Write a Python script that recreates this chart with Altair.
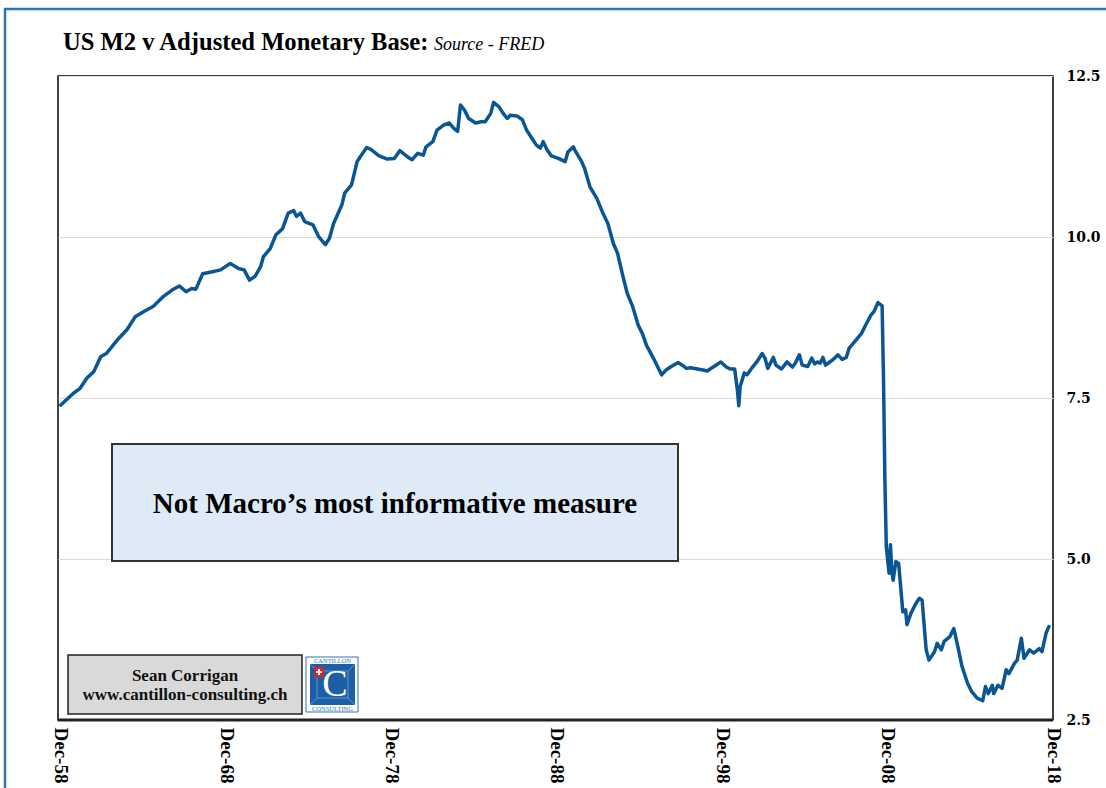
import altair as alt
import pandas as pd

# ---- data (ratio M2 / adjusted monetary base) ----
dates = [
    "1958-12", "1959-09", "1960-02", "1960-07", "1960-12", "1961-05", "1961-09", "1962-05",
    "1962-12", "1963-06", "1963-12", "1964-07", "1965-02", "1965-09", "1966-02", "1966-07",
    "1966-11", "1967-02", "1967-07", "1968-02", "1968-08", "1969-03", "1969-09", "1970-01",
    "1970-05", "1970-09", "1971-01", "1971-03", "1971-08", "1971-12", "1972-05", "1972-09",
    "1973-01", "1973-03", "1973-06", "1973-09", "1974-03", "1974-07", "1974-12", "1975-03",
    "1975-06", "1975-12", "1976-02", "1976-07", "1976-11", "1977-02", "1977-06", "1977-09",
    "1978-03", "1978-09", "1979-02", "1979-06", "1979-12", "1980-03", "1980-07", "1980-11",
    "1981-01", "1981-06", "1981-09", "1982-02", "1982-06", "1982-09", "1982-12", "1983-02",
    "1983-05", "1983-08", "1984-01", "1984-05", "1984-08", "1984-12", "1985-02", "1985-06",
    "1985-09", "1985-12", "1986-02", "1986-07", "1986-11", "1987-02", "1987-06", "1987-09",
    "1987-12", "1988-02", "1988-05", "1988-08", "1989-01", "1989-06", "1989-08", "1989-12",
    "1990-01", "1990-06", "1990-08", "1990-12", "1991-05", "1991-09", "1992-01", "1992-05",
    "1992-08", "1992-12", "1993-03", "1993-07", "1993-11", "1994-02", "1994-05", "1994-10",
    "1995-01", "1995-04", "1995-07", "1995-11", "1996-04", "1996-07", "1996-10", "1997-01",
    "1997-06", "1997-11", "1998-01", "1998-06", "1998-11", "1999-03", "1999-06", "1999-09",
    "1999-11", "1999-12", "2000-01", "2000-04", "2000-06", "2000-10", "2001-01", "2001-05",
    "2001-07", "2001-09", "2002-01", "2002-03", "2002-07", "2002-11", "2003-03", "2003-05",
    "2003-08", "2003-10", "2004-02", "2004-05", "2004-07", "2004-09", "2004-11", "2005-01",
    "2005-03", "2005-08", "2005-12", "2006-03", "2006-06", "2006-08", "2007-01", "2007-05",
    "2007-08", "2007-12", "2008-02", "2008-05", "2008-08", "2008-09", "2008-10", "2008-11",
    "2009-01", "2009-02", "2009-03", "2009-04", "2009-06", "2009-08", "2009-11", "2010-01",
    "2010-02", "2010-05", "2010-08", "2010-11", "2011-01", "2011-04", "2011-06", "2011-10",
    "2011-12", "2012-03", "2012-05", "2012-09", "2012-12", "2013-03", "2013-06", "2013-10",
    "2014-01", "2014-05", "2014-09", "2014-11", "2015-01", "2015-04", "2015-05", "2015-08",
    "2015-11", "2016-02", "2016-04", "2016-08", "2016-10", "2017-01", "2017-03", "2017-07",
    "2017-10", "2018-02", "2018-04", "2018-07", "2018-09",
]
values = [
    7.39, 7.57, 7.65, 7.81, 7.91, 8.14, 8.19, 8.40,
    8.56, 8.76, 8.84, 8.92, 9.07, 9.18, 9.24, 9.15,
    9.20, 9.19, 9.43, 9.46, 9.49, 9.59, 9.51, 9.49,
    9.33, 9.39, 9.54, 9.69, 9.82, 10.03, 10.13, 10.37,
    10.41, 10.32, 10.37, 10.24, 10.19, 10.01, 9.88, 9.98,
    10.21, 10.50, 10.68, 10.81, 11.17, 11.27, 11.39, 11.36,
    11.26, 11.21, 11.22, 11.34, 11.24, 11.20, 11.30, 11.27,
    11.40, 11.48, 11.66, 11.74, 11.77, 11.69, 11.64, 12.05,
    11.97, 11.84, 11.77, 11.79, 11.79, 11.92, 12.09, 12.02,
    11.92, 11.84, 11.89, 11.88, 11.82, 11.66, 11.53, 11.43,
    11.38, 11.48, 11.35, 11.26, 11.22, 11.17, 11.32, 11.40,
    11.35, 11.17, 11.07, 10.78, 10.60, 10.39, 10.21, 9.90,
    9.75, 9.38, 9.13, 8.92, 8.63, 8.50, 8.32, 8.12,
    7.99, 7.86, 7.93, 7.99, 8.05, 8.01, 7.96, 7.97,
    7.95, 7.93, 7.92, 7.99, 8.06, 7.98, 7.95, 7.95,
    7.62, 7.38, 7.68, 7.89, 7.86, 7.98, 8.06, 8.19,
    8.12, 7.96, 8.13, 8.01, 7.95, 8.06, 7.98, 8.04,
    8.17, 8.01, 7.99, 8.12, 8.03, 8.06, 8.04, 8.13,
    8.01, 8.09, 8.17, 8.10, 8.13, 8.27, 8.40, 8.50,
    8.63, 8.79, 8.84, 8.98, 8.93, 7.78, 6.23, 5.19,
    4.78, 5.22, 4.83, 4.67, 4.96, 4.93, 4.18, 4.21,
    3.98, 4.16, 4.29, 4.39, 4.36, 3.59, 3.43, 3.56,
    3.69, 3.59, 3.72, 3.79, 3.92, 3.64, 3.33, 3.07,
    2.94, 2.84, 2.80, 3.02, 2.91, 3.04, 2.91, 3.04,
    2.99, 3.28, 3.22, 3.38, 3.43, 3.77, 3.46, 3.59,
    3.54, 3.61, 3.56, 3.85, 3.95,
]
tick_years = [1958, 1968, 1978, 1988, 1998, 2008, 2018]
y_ticks = [2.5, 5.0, 7.5, 10.0, 12.5]

title_main = "US M2 v Adjusted Monetary Base:"
title_source = "Source - FRED"
note_text = "Not Macro\u2019s most informative measure"
sig_lines = ["Sean Corrigan", "www.cantillon-consulting.ch"]

df = pd.DataFrame({"date": [d + "-01" for d in dates], "value": values})

W, H = 995, 644
SERIF = "Liberation Serif"
LINE_BLUE = "#0a5694"
FRAME_BLUE = "#2e75b6"


def one():
    return pd.DataFrame({"a": [0]})


def box(x1, x2, y1, y2, **kw):
    return alt.Chart(one()).mark_rect(**kw).encode(
        x=alt.value(x1), x2=alt.value(x2), y=alt.value(y1), y2=alt.value(y2)
    )


def rule(x1, x2, y1, y2, **kw):
    return alt.Chart(one()).mark_rule(**kw).encode(
        x=alt.value(x1), x2=alt.value(x2), y=alt.value(y1), y2=alt.value(y2)
    )


def txt(s, x, y, size, **kw):
    return alt.Chart(pd.DataFrame({"t": [s]})).mark_text(fontSize=size, **kw).encode(
        text="t:N", x=alt.value(x), y=alt.value(y)
    )


line = alt.Chart(df).mark_line(
    color=LINE_BLUE, strokeWidth=3.5, strokeJoin="round", strokeCap="round"
).encode(
    x=alt.X(
        "date:T",
        scale=alt.Scale(
            type="utc",
            domain=[
                alt.DateTime(year=1958, month=10, date=1, utc=True),
                alt.DateTime(year=2018, month=12, date=1, utc=True),
            ],
        ),
        axis=alt.Axis(
            title=None,
            values=[alt.DateTime(year=y, month=12, date=1, utc=True) for y in tick_years],
            format="%b-%y",
            labelAngle=90,
            labelFont=SERIF,
            labelFontWeight="bold",
            labelFontSize=19,
            labelColor="black",
            labelPadding=7,
            labelFlush=False,
            labelOverlap=False,
            ticks=False,
            domain=False,
            grid=False,
        ),
    ),
    y=alt.Y(
        "value:Q",
        scale=alt.Scale(domain=[2.5, 12.5], nice=False, zero=False),
        axis=alt.Axis(
            title=None,
            orient="right",
            values=y_ticks,
            format=".1f",
            labelFont="DejaVu Serif",
            labelFontWeight="bold",
            labelFontSize=14,
            labelColor="black",
            labelPadding=13,
            labelFlush=False,
            ticks=False,
            domain=False,
            grid=True,
            gridColor="#d9d9d9",
            gridWidth=1,
        ),
    ),
)

layers = [
    # outer blue frame
    box(-53, 1054, -67, 730, fill=None, fillOpacity=0, stroke=FRAME_BLUE, strokeWidth=2.5),
    # title
    txt(title_main, 5, -26, 24.6, font=SERIF, fontWeight="bold", align="left", baseline="alphabetic", color="black"),
    txt(title_source, 376, -26, 18, font=SERIF, fontStyle="italic", align="left", baseline="alphabetic", color="black"),
    # annotation box
    box(54, 620, 368, 485, fill="#deeaf6", stroke="#333333", strokeWidth=2),
    txt(note_text, 337, 428, 29, font=SERIF, fontWeight="bold", align="center", baseline="middle", color="black"),
    # signature box
    box(10, 244, 579, 638, fill="#d9d9d9", stroke="#222222", strokeWidth=1.5),
    txt(sig_lines[0], 127, 600, 17, font=SERIF, fontWeight="bold", align="center", baseline="middle", color="#111111"),
    txt(sig_lines[1], 127, 619, 17, font=SERIF, fontWeight="bold", align="center", baseline="middle", color="#111111"),
    # logo
    box(248, 300, 581, 636, fill="white", stroke=FRAME_BLUE, strokeWidth=1),
    box(252, 297, 588, 629, fill="#1d5fa6"),
    box(259, 290, 595, 622, fill=None, fillOpacity=0, stroke="#6f9fd6", strokeWidth=0.8),
    rule(252, 259, 588, 595, color="#6f9fd6", strokeWidth=0.8),
    rule(297, 290, 588, 595, color="#6f9fd6", strokeWidth=0.8),
    rule(252, 259, 629, 622, color="#6f9fd6", strokeWidth=0.8),
    rule(297, 290, 629, 622, color="#6f9fd6", strokeWidth=0.8),
    txt("CANTILLON", 274.5, 585, 6.5, font=SERIF, align="center", baseline="middle", color=FRAME_BLUE),
    txt("CONSULTING", 274.5, 633, 6.5, font=SERIF, align="center", baseline="middle", color=FRAME_BLUE),
    txt("C", 277, 609, 38, font=SERIF, align="center", baseline="middle", color="white"),
    box(256, 266, 591, 601, fill="#e02020"),
    box(260, 262, 593, 599, fill="white"),
    box(258, 264, 595, 597, fill="white"),
    # data line
    line,
    # thicker bottom frame
    rule(0, W, H, H, color="#222222", strokeWidth=3),
]

chart = alt.layer(*layers).properties(
    width=W,
    height=H,
    padding={"left": 58, "top": 76, "right": 53, "bottom": 68},
    autosize=alt.AutoSizeParams(type="none"),
    background="white",
).configure_view(stroke="black", strokeWidth=1.5)

chart.save("out.html", embed_options={"renderer": "svg", "actions": False})
